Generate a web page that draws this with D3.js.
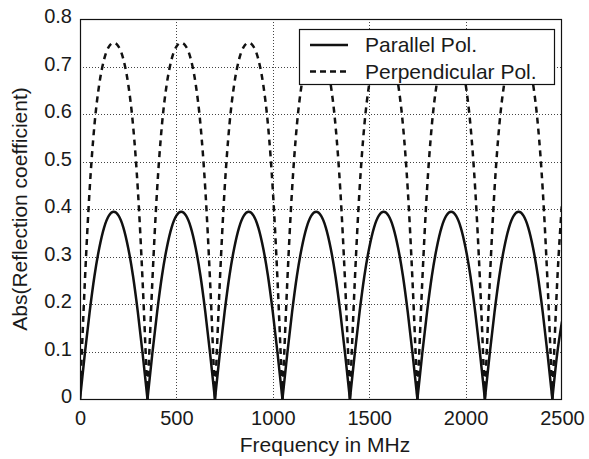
<!DOCTYPE html>
<html>
<head>
<meta charset="utf-8">
<script src="https://cdn.jsdelivr.net/npm/d3@7"></script>
<style>
  html, body { margin: 0; padding: 0; background: #fff; }
  svg { display: block; }
  text { font-family: "Liberation Sans", Arial, Helvetica, sans-serif; fill: #1a1a1a; }
</style>
</head>
<body>
<svg id="chart" width="589" height="459"></svg>
<script>
// Frequency samples (MHz)
const freqMHz = [
  0, 25, 50, 75, 100, 125, 150, 175, 200, 225, 250, 275, 300, 325,
  350, 375, 400, 425, 450, 475, 500, 525, 550, 575, 600, 625, 650, 675,
  700, 725, 750, 775, 800, 825, 850, 875, 900, 925, 950, 975, 1000, 1025,
  1050, 1075, 1100, 1125, 1150, 1175, 1200, 1225, 1250, 1275, 1300, 1325, 1350, 1375,
  1400, 1425, 1450, 1475, 1500, 1525, 1550, 1575, 1600, 1625, 1650, 1675, 1700, 1725,
  1750, 1775, 1800, 1825, 1850, 1875, 1900, 1925, 1950, 1975, 2000, 2025, 2050, 2075,
  2100, 2125, 2150, 2175, 2200, 2225, 2250, 2275, 2300, 2325, 2350, 2375, 2400, 2425,
  2450, 2475, 2500
];

// |reflection coefficient|, parallel polarisation
const parallelPol = [
  0, 0.095, 0.183, 0.259, 0.318, 0.361, 0.386, 0.394, 0.386, 0.361, 0.318, 0.259, 0.183, 0.095,
  0, 0.095, 0.183, 0.259, 0.318, 0.361, 0.386, 0.394, 0.386, 0.361, 0.318, 0.259, 0.183, 0.095,
  0, 0.095, 0.183, 0.259, 0.318, 0.361, 0.386, 0.394, 0.386, 0.361, 0.318, 0.259, 0.183, 0.095,
  0, 0.095, 0.183, 0.259, 0.318, 0.361, 0.386, 0.394, 0.386, 0.361, 0.318, 0.259, 0.183, 0.095,
  0, 0.095, 0.183, 0.259, 0.318, 0.361, 0.386, 0.394, 0.386, 0.361, 0.318, 0.259, 0.183, 0.095,
  0, 0.095, 0.183, 0.259, 0.318, 0.361, 0.386, 0.394, 0.386, 0.361, 0.318, 0.259, 0.183, 0.095,
  0, 0.095, 0.183, 0.259, 0.318, 0.361, 0.386, 0.394, 0.386, 0.361, 0.318, 0.259, 0.183, 0.095,
  0, 0.095, 0.163
];

// |reflection coefficient|, perpendicular polarisation
const perpendicularPol = [
  0, 0.245, 0.441, 0.577, 0.663, 0.715, 0.742, 0.750, 0.742, 0.715, 0.663, 0.577, 0.441, 0.245,
  0, 0.245, 0.441, 0.577, 0.663, 0.715, 0.742, 0.750, 0.742, 0.715, 0.663, 0.577, 0.441, 0.245,
  0, 0.245, 0.441, 0.577, 0.663, 0.715, 0.742, 0.750, 0.742, 0.715, 0.663, 0.577, 0.441, 0.245,
  0, 0.245, 0.441, 0.577, 0.663, 0.715, 0.742, 0.750, 0.742, 0.715, 0.663, 0.577, 0.441, 0.245,
  0, 0.245, 0.441, 0.577, 0.663, 0.715, 0.742, 0.750, 0.742, 0.715, 0.663, 0.577, 0.441, 0.245,
  0, 0.245, 0.441, 0.577, 0.663, 0.715, 0.742, 0.750, 0.742, 0.715, 0.663, 0.577, 0.441, 0.245,
  0, 0.245, 0.441, 0.577, 0.663, 0.715, 0.742, 0.750, 0.742, 0.715, 0.663, 0.577, 0.441, 0.245,
  0, 0.245, 0.412
];

const xTicks = [0, 500, 1000, 1500, 2000, 2500];
const yTicks = [0, 0.1, 0.2, 0.3, 0.4, 0.5, 0.6, 0.7, 0.8];
const seriesNames = ["Parallel Pol.", "Perpendicular Pol."];

const margin = { left: 80, right: 27, top: 19, bottom: 60 };
const W = 589, H = 459;
const pw = W - margin.left - margin.right;
const ph = H - margin.top - margin.bottom;

const svg = d3.select("#chart");
const g = svg.append("g").attr("transform", `translate(${margin.left},${margin.top})`);

const x = d3.scaleLinear().domain([0, 2500]).range([0, pw]);
const y = d3.scaleLinear().domain([0, 0.8]).range([ph, 0]);

// dotted grid
const grid = g.append("g").attr("stroke", "#444").attr("stroke-width", 1)
  .attr("stroke-dasharray", "1,2").attr("shape-rendering", "crispEdges");
grid.selectAll("line.gx").data(xTicks.slice(1, -1)).join("line")
  .attr("x1", d => Math.round(x(d)) + 0.5).attr("x2", d => Math.round(x(d)) + 0.5)
  .attr("y1", 0).attr("y2", ph);
grid.selectAll("line.gy").data(yTicks.slice(1, -1)).join("line")
  .attr("x1", 0).attr("x2", pw)
  .attr("y1", d => Math.round(y(d)) + 0.5).attr("y2", d => Math.round(y(d)) + 0.5);

// axes with labels only (frame drawn separately)
const xAxis = d3.axisBottom(x).tickValues(xTicks).tickSize(0).tickPadding(0)
  .tickFormat(d3.format("d"));
const yAxis = d3.axisLeft(y).tickValues(yTicks).tickSize(0).tickPadding(0)
  .tickFormat(d => d === 0 ? "0" : d3.format(".1f")(d));

const gx = g.append("g").attr("transform", `translate(0,${ph})`).call(xAxis);
gx.select(".domain").remove();
gx.selectAll("text").attr("font-size", 20).attr("dy", null).attr("y", 26)
  .attr("font-family", "Liberation Sans, Arial, sans-serif").attr("fill", "#1a1a1a");

const gy = g.append("g").call(yAxis);
gy.select(".domain").remove();
gy.selectAll("text").attr("font-size", 20).attr("dy", null).attr("x", -8).attr("y", 3.5)
  .attr("font-family", "Liberation Sans, Arial, sans-serif").attr("fill", "#1a1a1a");

// curves, each lobe smoothed separately so the zeros keep their cusps
g.append("clipPath").attr("id", "plotClip").append("rect")
  .attr("width", pw).attr("height", ph + 2).attr("y", -1);

const line = d3.line().x(d => x(d[0])).y(d => y(d[1])).curve(d3.curveMonotoneX);

function lobePath(vals) {
  const segs = [];
  let cur = [];
  vals.forEach((v, i) => {
    cur.push([freqMHz[i], v]);
    if (v === 0 && cur.length > 1) { segs.push(cur); cur = [[freqMHz[i], v]]; }
  });
  if (cur.length > 1) segs.push(cur);
  return segs.map(s => line(s)).join("");
}

const curves = g.append("g").attr("clip-path", "url(#plotClip)");
curves.append("path").attr("d", lobePath(perpendicularPol))
  .attr("fill", "none").attr("stroke", "#111").attr("stroke-width", 2.5)
  .attr("stroke-dasharray", "6,5");
curves.append("path").attr("d", lobePath(parallelPol))
  .attr("fill", "none").attr("stroke", "#111").attr("stroke-width", 2.5)
  .attr("stroke-linejoin", "round");

// frame
g.append("rect").attr("x", 0.5).attr("y", 0.5).attr("width", pw - 1).attr("height", ph)
  .attr("fill", "none").attr("stroke", "#111").attr("stroke-width", 1.2);

// axis titles
svg.append("text").attr("x", margin.left + pw / 2 + 4).attr("y", 452)
  .attr("text-anchor", "middle").attr("font-size", 21).text("Frequency in MHz");
svg.append("text").attr("transform", `translate(27,${margin.top + ph / 2}) rotate(-90)`)
  .attr("text-anchor", "middle").attr("font-size", 21).text("Abs(Reflection coefficient)");

// legend
const lg = svg.append("g").attr("transform", "translate(299,29)");
lg.append("rect").attr("x", 0.5).attr("y", 0.5).attr("width", 255).attr("height", 55)
  .attr("fill", "#fff").attr("stroke", "#111").attr("stroke-width", 1.2);
const items = lg.selectAll("g.item").data(seriesNames).join("g")
  .attr("transform", (d, i) => `translate(0,${16 + i * 26.5})`);
items.append("line").attr("x1", 11).attr("x2", 49).attr("y1", 0).attr("y2", 0)
  .attr("stroke", "#111").attr("stroke-width", 2.5)
  .attr("stroke-dasharray", (d, i) => i === 0 ? null : "6,4");
items.append("text").attr("x", 66).attr("y", 7).attr("font-size", 21).text(d => d);
</script>
</body>
</html>
